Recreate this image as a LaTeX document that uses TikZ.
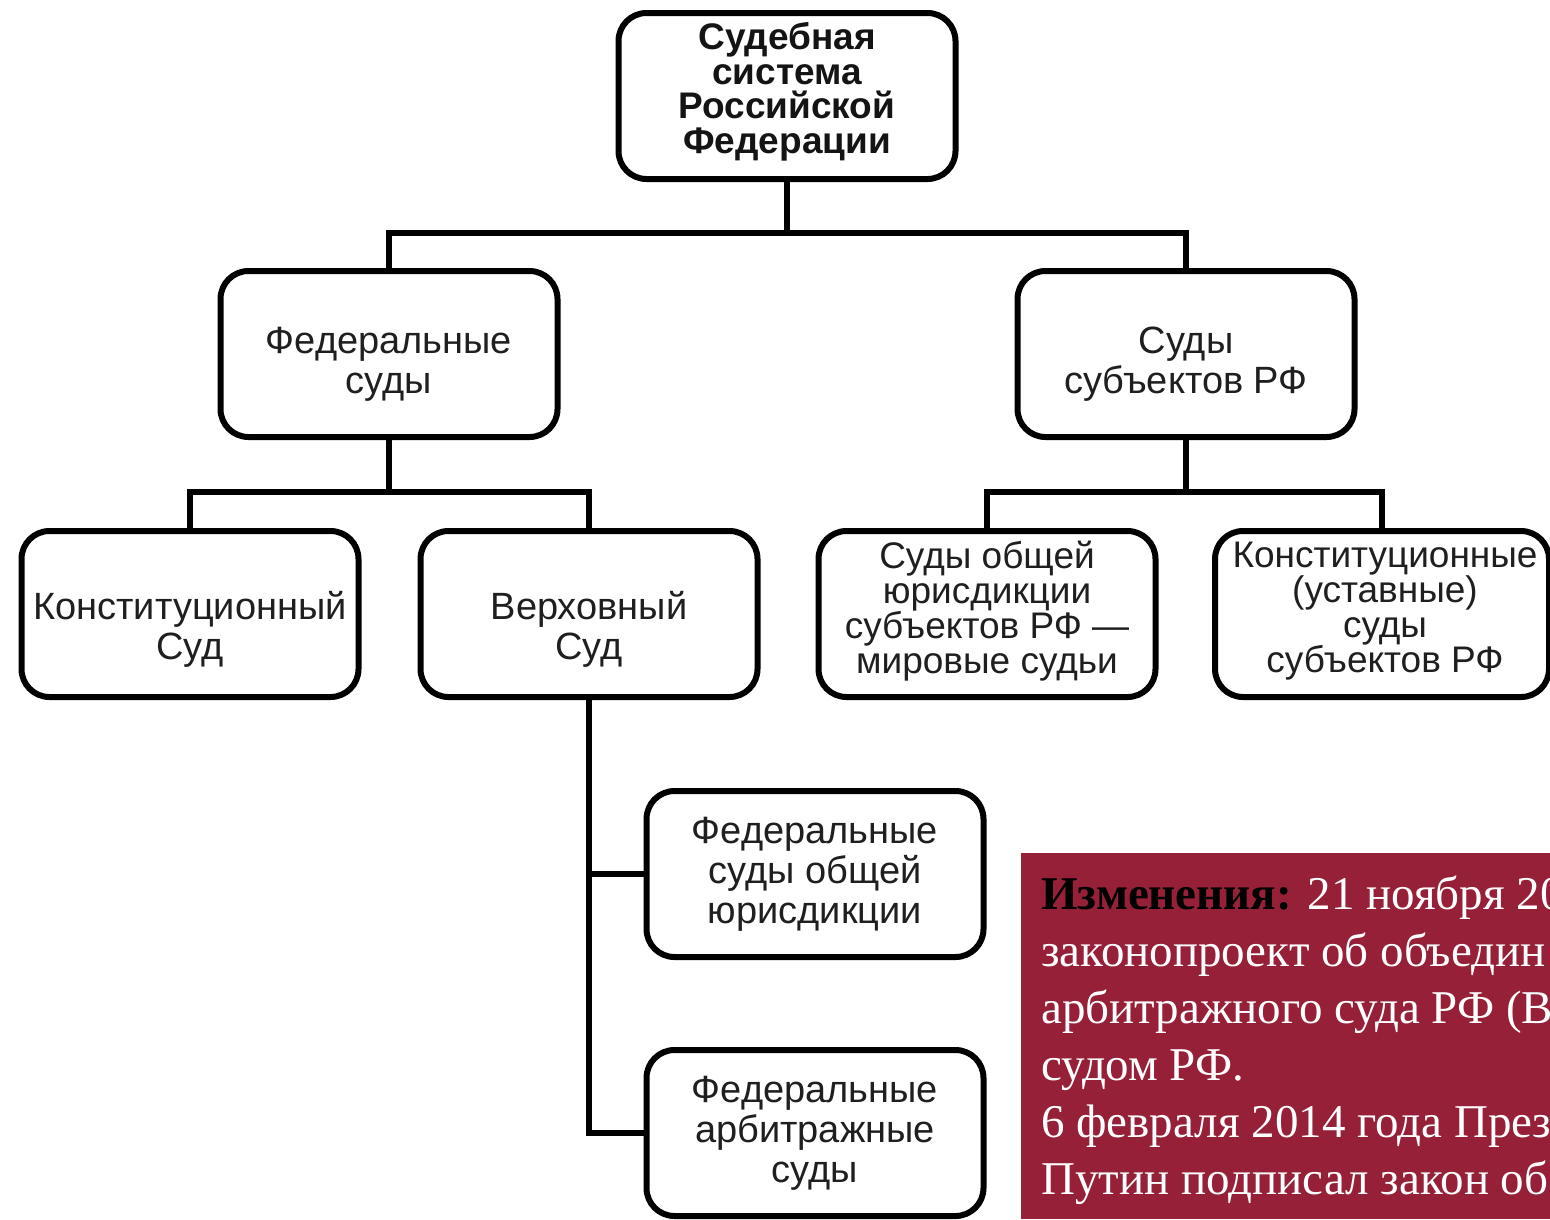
\documentclass[tikz,border=0pt]{standalone}
\usepackage{fontspec}
\setmainfont{Liberation Serif}
\setsansfont{Liberation Sans}
\definecolor{notered}{RGB}{149,32,56}
\begin{document}
\begin{tikzpicture}[x=1pt,y=-1pt,
  box/.style={draw=black, line width=6pt, rounded corners=28pt, fill=white,
    minimum width=337pt, minimum height=166pt, inner sep=0pt},
  btext/.style={inner sep=0pt, align=center, text=black!88,
    font=\sffamily\fontsize{38}{40}\selectfont},
  btextiv/.style={btext, font=\sffamily\fontsize{37}{35}\selectfont},
  toptext/.style={btext, text=black!92, font=\sffamily\bfseries\fontsize{37}{34.5}\selectfont},
  link/.style={line width=6pt, draw=black},
  notetext/.style={anchor=base west, inner sep=0pt, text=white,
    font=\rmfamily\fontsize{47}{57}\selectfont}]
\useasboundingbox (0,0) rectangle (1550,1219);
\fill[white] (0,0) rectangle (1550,1219);

% boxes
\node[box] (top) at (787,96) {};
\node[box] (fed) at (389,354) {};
\node[box] (subj) at (1186,354) {};
\node[box] (const) at (190,614) {};
\node[box] (sup) at (589,614) {};
\node[box] (genj) at (987,614) {};
\node[box, minimum width=334pt] (charter) at (1382,614) {};
\node[box] (fgj) at (815,874) {};
\node[box] (farb) at (815,1133) {};

% box texts
\node[toptext] (top-t) at (787,92) {Судебная\\система\\Российской\\Федерации};
\node[btext] (fed-t) at (389,364) {Федеральные\\суды};
\node[btext] (subj-t) at (1186,364) {Суды\\субъектов РФ};
\node[btext] (const-t) at (190,629) {Конституционный\\Суд};
\node[btext] (sup-t) at (589,629) {Верховный\\Суд};
\node[btextiv] (genj-t) at (987,611) {Суды общей\\юрисдикции\\субъектов РФ —\\мировые судьи};
\node[btextiv] (charter-t) at (1385,611) {Конституционные\\(уставные)\\суды\\субъектов РФ};
\node[btext] (fgj-t) at (815,874) {Федеральные\\суды общей\\юрисдикции};
\node[btext] (farb-t) at (815,1133) {Федеральные\\арбитражные\\суды};

% junctions
\coordinate (j1) at (787,233);
\coordinate (j2) at (389,492);
\coordinate (j3) at (1186,492);

% connectors
\draw[link] (top.south) -- (j1);
\draw[link] (fed.north) |- (j1) -| (subj.north);
\draw[link] (fed.south) -- (j2);
\draw[link] (const.north) |- (j2) -| (sup.north);
\draw[link] (subj.south) -- (j3);
\draw[link] (genj.north) |- (j3) -| (charter.north);
\draw[link] (sup.south) |- (farb.west);
\draw[link] (fgj.west) -- (fgj.west -| sup.south);

% note panel
\fill[notered] (1021,853) rectangle (1550,1219);
\begin{scope}
\clip (1021,853) rectangle (1550,1219);
\node[notetext] (n1) at (1041,909) {\textcolor{black}{\bfseries Изменения:} 21 ноября 20};
\node[notetext] (n2) at (1041,966) {законопроект об объедин};
\node[notetext] (n3) at (1041,1023) {арбитражного суда РФ (В};
\node[notetext] (n4) at (1041,1080) {судом РФ.};
\node[notetext] (n5) at (1041,1137) {6 февраля 2014 года През};
\node[notetext] (n6) at (1041,1194) {Путин подписал закон об};
\end{scope}
\end{tikzpicture}
\end{document}
